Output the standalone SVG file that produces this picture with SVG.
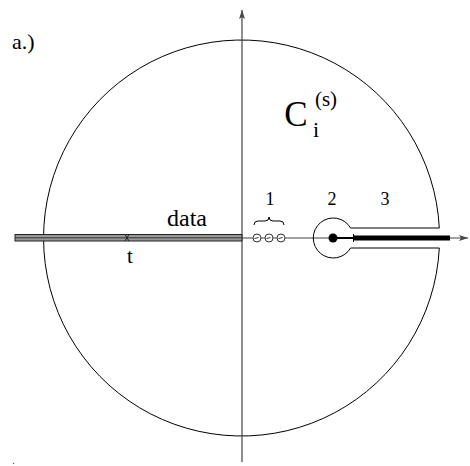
<svg xmlns="http://www.w3.org/2000/svg" width="470" height="466" viewBox="0 0 470 466">
<style>
text{font-family:'Liberation Serif','Times New Roman',serif;fill:#000}
.thin{fill:none;stroke:#000;stroke-width:1}
.axis{fill:none;stroke:#444;stroke-width:1.2}
</style>
<defs>
<marker id="ah" markerWidth="10" markerHeight="8" refX="9" refY="4" orient="auto" markerUnits="userSpaceOnUse">
<path d="M0,1 L9,4 L0,7 L2,4 Z" fill="#444"/>
</marker>
</defs>
<rect width="470" height="466" fill="#fff"/>
<g id="contour">
<path class="thin" d="M439.3,228 A198,198 0 1 0 439.3,248"/>
</g>
<g id="connectors">
<line class="axis" x1="242" y1="462" x2="242" y2="10" marker-end="url(#ah)"/>
<line class="axis" x1="242" y1="238" x2="468" y2="238" marker-end="url(#ah)"/>
</g>
<g id="data">
<rect x="15" y="234.5" width="227" height="6.5" fill="#999" stroke="#222" stroke-width="1"/>
<line x1="15" y1="237.8" x2="242" y2="237.8" stroke="#333" stroke-width="1"/>
<path d="M125,234.5 L129,241 M129,234.5 L125,241" stroke="#222" stroke-width="1"/>
<text x="187" y="226" font-size="24" text-anchor="middle">data</text>
<text x="130" y="263" font-size="21" text-anchor="middle">t</text>
</g>
<g id="poles1">
<g fill="#fff" stroke="#333" stroke-width="1">
<circle cx="257" cy="238" r="4"/>
<circle cx="269" cy="238" r="4"/>
<circle cx="281" cy="238" r="4"/>
</g>
<path d="M254.5,238.5 L258.5,237.5 M266.5,238.5 L270.5,237.5 M278.5,238.5 L282.5,237.5" stroke="#333" stroke-width="1"/>
<path class="thin" d="M254,225 Q254,221 258,221 L265,221 Q269,221 269,217 Q269,221 273,221 L280,221 Q284,221 284,225"/>
<text x="270" y="205" font-size="18" text-anchor="middle">1</text>
</g>
<g id="keyhole">
<path class="thin" d="M350.6,228 A20,20 0 1 0 350.6,248"/>
<line class="thin" x1="350.6" y1="228" x2="439.3" y2="228"/>
<line class="thin" x1="350.6" y1="248" x2="439.3" y2="248"/>
<circle cx="333" cy="238" r="4.5" fill="#000"/>
<line x1="333" y1="238" x2="353" y2="238" stroke="#000" stroke-width="2"/>
<line x1="353.5" y1="234" x2="353.5" y2="242" stroke="#000" stroke-width="1"/>
<rect x="354" y="235.5" width="96" height="5" fill="#000"/>
<text x="332" y="205" font-size="18" text-anchor="middle">2</text>
<text x="385" y="205" font-size="18" text-anchor="middle">3</text>
</g>
<g id="label">
<text x="296" y="126" font-size="35" text-anchor="middle">C</text>
<text x="326" y="106" font-size="21" text-anchor="middle">(s)</text>
<text x="316" y="137" font-size="22" text-anchor="middle">i</text>
<text x="12" y="49" font-size="22">a.)</text>
</g>
<circle cx="13.5" cy="463.5" r="0.7" fill="#555"/>
</svg>
